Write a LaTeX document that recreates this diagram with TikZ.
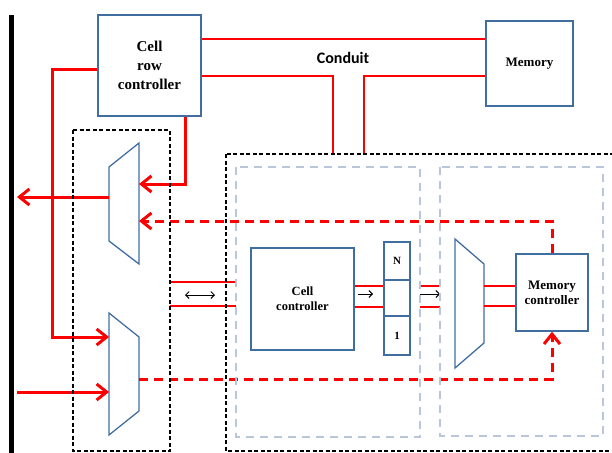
\documentclass[tikz,border=0pt]{standalone}
\usepackage{fontspec}
\setmainfont{Liberation Serif}
\newfontfamily\serf{Liberation Serif}
\newfontfamily\calib{Carlito}
\usetikzlibrary{arrows.meta}
\definecolor{boxblue}{RGB}{65,110,160}
\definecolor{grayd}{RGB}{185,197,216}
\begin{document}
\begin{tikzpicture}[x=1pt,y=-1pt,
  bluebox/.style={draw=boxblue, line width=1.3pt, inner sep=0pt, align=center},
  muxshape/.style={draw=boxblue, line width=1.3pt, line join=miter},
  thickred/.style={draw=red, line width=3pt},
  thinred/.style={draw=red, line width=1.2pt},
  redtip/.style={-{Straight Barb[length=10pt,width=16pt]}},
  reddash/.style={dash pattern=on 9pt off 6pt},
  blackdash/.style={draw=black, line width=1.2pt, dash pattern=on 4pt off 2.5pt},
  graydash/.style={draw=grayd, line width=1.2pt, dash pattern=on 8pt off 6pt},
  smallarrow/.style={draw=black, line width=0.9pt, -{Straight Barb[length=3.5pt,width=7pt]}},
  dblarrow/.style={draw=black, line width=0.9pt, {Straight Barb[length=3.5pt,width=7pt]}-{Straight Barb[length=3.5pt,width=7pt]}}
]
\useasboundingbox (0,0) rectangle (612,452);

% nodes
\node[bluebox, minimum width=103pt, minimum height=101pt, font=\serf\bfseries\fontsize{15}{19}\selectfont] (crc) at (149.5,65.5) {Cell\\row\\controller};
\node[bluebox, minimum width=87pt, minimum height=85pt, font=\serf\bfseries\fontsize{13}{15}\selectfont] (mem) at (529.5,63.5) {Memory};
\node[bluebox, minimum width=103pt, minimum height=102pt, font=\serf\bfseries\fontsize{12.5}{15}\selectfont] (cc) at (302.5,299) {Cell\\controller};
\node[bluebox, minimum width=72pt, minimum height=77pt, font=\serf\bfseries\fontsize{13}{15}\selectfont] (mc) at (552,292.5) {Memory\\controller};
\node[bluebox, minimum width=26pt, minimum height=38pt, font=\serf\bfseries\fontsize{11}{13}\selectfont] (sn) at (397,261) {N};
\node[bluebox, minimum width=26pt, minimum height=36pt] (sm) at (397,298) {};
\node[bluebox, minimum width=26pt, minimum height=39pt, font=\serf\bfseries\fontsize{11}{13}\selectfont] (s1) at (397,335.5) {1};
\node[font=\calib\bfseries\fontsize{16}{18}\selectfont] (conduit) at (343,58) {Conduit};

% mux corners
\coordinate (umTL) at (109,167); \coordinate (umTR) at (139,143);
\coordinate (umBR) at (139,264); \coordinate (umBL) at (109,241);
\coordinate (lmTL) at (109,313); \coordinate (lmTR) at (139,337);
\coordinate (lmBR) at (139,411); \coordinate (lmBL) at (109,435);
\coordinate (mmTL) at (455,239); \coordinate (mmTR) at (484,264);
\coordinate (mmBR) at (484,343); \coordinate (mmBL) at (455,368);
\draw[muxshape] (umTL) -- (umTR) -- (umBR) -- (umBL) -- cycle;
\draw[muxshape] (lmTL) -- (lmTR) -- (lmBR) -- (lmBL) -- cycle;
\draw[muxshape] (mmTL) -- (mmTR) -- (mmBR) -- (mmBL) -- cycle;

% bus bar
\coordinate (busT) at (11,15); \coordinate (busB) at (11,455);
\draw[line width=5pt] (busT) -- (busB);

% conduit lines
\coordinate (bigtopA) at (333,154); \coordinate (bigtopB) at (364,154);
\draw[thinred] (crc.east |- 0,39) -- (mem.west |- 0,39);
\draw[thinred] (crc.east |- 0,76) -| (bigtopA);
\draw[thinred] (mem.west |- 0,76) -| (bigtopB);

% thin red datapath lines
\coordinate (lbR1) at (170,282); \coordinate (gbL1) at (236,282);
\coordinate (lbR2) at (170,306); \coordinate (gbL2) at (236,306);
\draw[thinred] (lbR1) -- (gbL1);
\draw[thinred] (lbR2) -- (gbL2);
\coordinate (da1) at (185,295); \coordinate (da2) at (215,295);
\draw[dblarrow] (da1) -- (da2);
\draw[thinred] (cc.east |- 0,286) -- (sm.west |- 0,286);
\draw[thinred] (cc.east |- 0,307) -- (sm.west |- 0,307);
\coordinate (sa1) at (358,294); \coordinate (sa2) at (373,294);
\draw[smallarrow] (sa1) -- (sa2);
\coordinate (ga1) at (420,286); \coordinate (ga2) at (440,286);
\coordinate (gb1) at (420,307); \coordinate (gb2) at (440,307);
\draw[thinred] (ga1) -- (ga2);
\draw[thinred] (gb1) -- (gb2);
\coordinate (sb1) at (420,294); \coordinate (sb2) at (440,294);
\draw[smallarrow] (sb1) -- (sb2);
\draw[thinred] (mmTR |- 0,286) -- (mc.west |- 0,286);
\draw[thinred] (mmTR |- 0,306) -- (mc.west |- 0,306);

% thick red control paths
\coordinate (leftbend) at (52,69);
\draw[thickred, redtip] (crc.west |- leftbend) -- (leftbend) |- (lmTL |- 0,337);
\coordinate (crcdown) at (185,184);
\draw[thickred, redtip] (crc.south -| crcdown) -- (crcdown) -- (umTR |- crcdown);
\coordinate (outtip) at (17,197);
\draw[thickred, redtip] (umTL |- outtip) -- (outtip);
\coordinate (instart) at (17,392);
\draw[thickred, redtip] (instart) -- (lmTL |- instart);
\coordinate (mcup) at (552,221);
\draw[thickred, reddash, redtip] (mc.north) -- (mcup) -- (umTR |- mcup);
\coordinate (mcdn) at (552,379);
\draw[thickred, reddash, redtip] (lmTR |- mcdn) -- (mcdn) -- (mc.south);

% dashed boxes
\coordinate (lbA) at (73,130); \coordinate (lbB) at (170,451);
\draw[blackdash] (lbA) rectangle (lbB);
\coordinate (bbA) at (226,154); \coordinate (bbB) at (630,451);
\draw[blackdash] (bbA) rectangle (bbB);
\coordinate (g1A) at (236,167); \coordinate (g1B) at (420,437);
\draw[graydash] (g1A) rectangle (g1B);
\coordinate (g2A) at (440,167); \coordinate (g2B) at (603,436);
\draw[graydash] (g2A) rectangle (g2B);
\end{tikzpicture}
\end{document}
